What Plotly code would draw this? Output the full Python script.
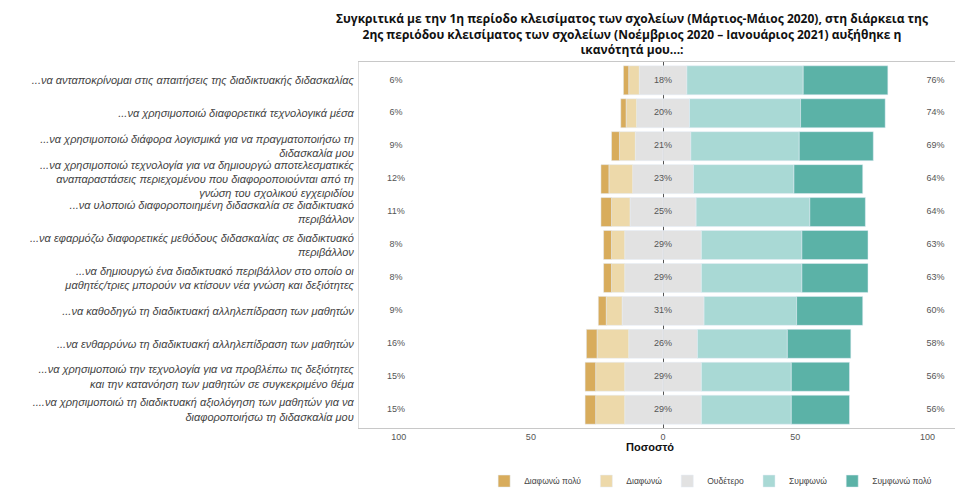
import plotly.graph_objects as go

# Likert responses (% of teachers), top row first
items = [
    "...να ανταποκρίνομαι στις απαιτήσεις της διαδικτυακής διδασκαλίας",
    "...να χρησιμοποιώ διαφορετικά τεχνολογικά μέσα",
    "...να χρησιμοποιώ διάφορα λογισμικά για να πραγματοποιήσω τη<br>διδασκαλία μου",
    "...να χρησιμοποιώ τεχνολογία για να δημιουργώ αποτελεσματικές<br>αναπαραστάσεις περιεχομένου που διαφοροποιούνται από τη<br>γνώση του σχολικού εγχειριδίου",
    "...να υλοποιώ διαφοροποιημένη διδασκαλία σε διαδικτυακό<br>περιβάλλον",
    "...να εφαρμόζω διαφορετικές μεθόδους διδασκαλίας σε διαδικτυακό<br>περιβάλλον",
    "...να δημιουργώ ένα διαδικτυακό περιβάλλον στο οποίο οι<br>μαθητές/τριες μπορούν να κτίσουν νέα γνώση και δεξιότητες",
    "...να καθοδηγώ τη διαδικτυακή αλληλεπίδραση των μαθητών",
    "...να ενθαρρύνω τη διαδικτυακή αλληλεπίδραση των μαθητών",
    "...να χρησιμοποιώ την τεχνολογία για να προβλέπω τις δεξιότητες<br>και την κατανόηση των μαθητών σε συγκεκριμένο θέμα",
    "....να χρησιμοποιώ τη διαδικτυακή αξιολόγηση των μαθητών για να<br>διαφοροποιήσω τη διδασκαλία μου",
]
strongly_disagree = [2, 2, 3, 3, 4, 3, 3, 3, 4, 4, 4]
disagree = [4, 4, 6, 9, 7, 5, 5, 6, 12, 11, 11]
neutral = [18, 20, 21, 23, 25, 29, 29, 31, 26, 29, 29]
agree = [44, 42, 41, 38, 43, 38, 38, 35, 34, 34, 34]
strongly_agree = [32, 32, 28, 26, 21, 25, 25, 25, 24, 22, 22]

disagree_total = [6, 6, 9, 12, 11, 8, 8, 9, 16, 15, 15]
agree_total = [76, 74, 69, 64, 64, 63, 63, 60, 58, 56, 56]

labels = ["Διαφωνώ πολύ", "Διαφωνώ", "Ουδέτερο", "Συμφωνώ", "Συμφωνώ πολύ"]
colors = ["#D8AC5C", "#EDD9AA", "#E2E2E2", "#A9D9D5", "#5BB2A7"]

fig = go.Figure()

half_neutral = [v / 2 for v in neutral]
bar_kw = dict(orientation="h", y=items, hoverinfo="skip")

# negative side: closest to zero first
fig.add_trace(go.Bar(x=[-v for v in half_neutral], marker_color=colors[2],
                     name=labels[2], legendgroup="n", showlegend=False, **bar_kw))
fig.add_trace(go.Bar(x=[-v for v in disagree], marker_color=colors[1],
                     name=labels[1], legendrank=2, **bar_kw))
fig.add_trace(go.Bar(x=[-v for v in strongly_disagree], marker_color=colors[0],
                     name=labels[0], legendrank=1, **bar_kw))
# positive side
fig.add_trace(go.Bar(x=half_neutral, marker_color=colors[2],
                     name=labels[2], legendgroup="n", legendrank=3, **bar_kw))
fig.add_trace(go.Bar(x=agree, marker_color=colors[3],
                     name=labels[3], legendrank=4, **bar_kw))
fig.add_trace(go.Bar(x=strongly_agree, marker_color=colors[4],
                     name=labels[4], legendrank=5, **bar_kw))

txt_font = dict(family="Liberation Sans, Arial", size=9, color="#555555")
fig.add_trace(go.Scatter(x=[-101] * len(items), y=items, mode="text",
                         text=[f"{v}%" for v in disagree_total],
                         textfont=txt_font, showlegend=False, hoverinfo="skip"))
fig.add_trace(go.Scatter(x=[0] * len(items), y=items, mode="text",
                         text=[f"{v}%" for v in neutral],
                         textfont=txt_font, showlegend=False, hoverinfo="skip"))
fig.add_trace(go.Scatter(x=[103] * len(items), y=items, mode="text",
                         text=[f"{v}%" for v in agree_total],
                         textfont=txt_font, showlegend=False, hoverinfo="skip"))

title_text = ("Συγκριτικά με την 1η περίοδο κλεισίματος των σχολείων (Μάρτιος-Μάιος 2020), στη διάρκεια της<br>"
              "2ης περιόδου κλεισίματος των σχολείων (Νοέμβριος 2020 – Ιανουάριος 2021) αυξήθηκε η<br>"
              "ικανότητά μου...:")

fig.update_layout(
    width=959, height=490,
    barmode="relative", bargap=0.12,
    plot_bgcolor="white", paper_bgcolor="white",
    margin=dict(l=359, r=4, t=62, b=62, autoexpand=False),
    font=dict(family="Liberation Sans, Arial", color="#444444"),
    xaxis=dict(range=[-115, 110.4], tickvals=[-100, -50, 0, 50, 100],
               ticktext=["100", "50", "0", "50", "100"],
               showgrid=False, zeroline=True, zerolinecolor="#555555", zerolinewidth=1,
               showline=True, linecolor="#C8C8C8", mirror=True, automargin=False,
               tickfont=dict(size=9, color="#555555"), ticks=""),
    yaxis=dict(autorange="reversed", showgrid=False, showline=True,
               linecolor="#DDDDDD", ticks="", automargin=False, ticklabelstandoff=2,
               tickfont=dict(size=11, color="#444444", style="italic")),
    legend=dict(orientation="h", x=0.59, xanchor="center", y=-0.145, yanchor="middle",
                font=dict(size=8.5, color="#444444"), traceorder="normal"),
    annotations=[
        dict(text="<b>Ποσοστό</b>", x=-5, xref="x", y=-0.052, yref="paper",
             yanchor="middle", showarrow=False, font=dict(size=11, color="#111111")),
        dict(text=title_text, x=(632 - 359) / 596, xref="paper", xanchor="center",
             y=1 + (62 - 8) / 366, yref="paper", yanchor="top", showarrow=False,
             align="center",
             font=dict(family="Open Sans", size=12, color="#111111", weight="bold")),
    ],
)

fig.write_html("out.html", config={"displayModeBar": False},
               post_script="document.body.style.margin='0';")
